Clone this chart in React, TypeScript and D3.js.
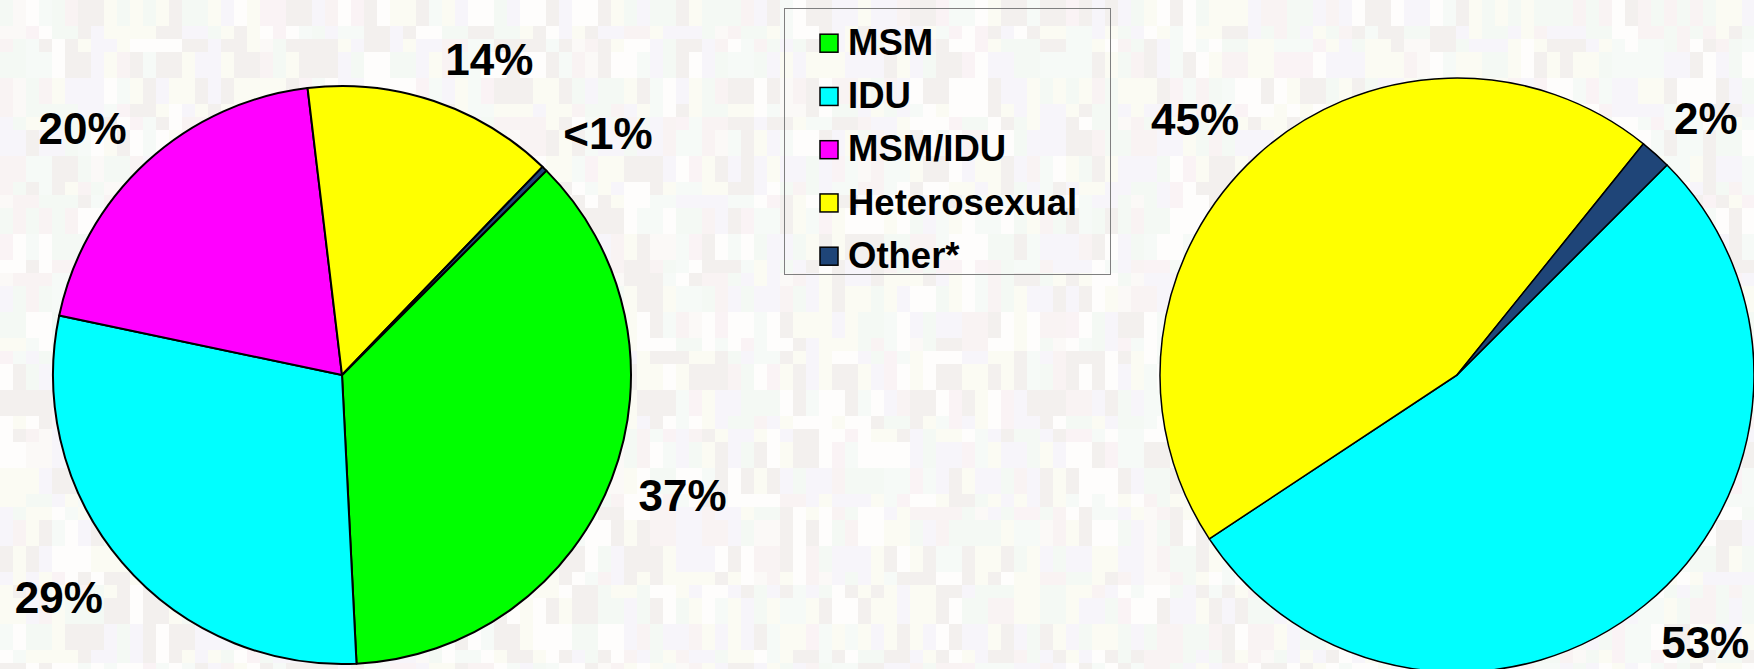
import React from "react";
import * as d3 from "d3";

// ---- data ----
const categories = ["MSM", "IDU", "MSM/IDU", "Heterosexual", "Other*"];
const sliceColors = ["#00ff00", "#00ffff", "#ff00ff", "#ffff00", "#1f4578"];
const leftValues = [36.7, 29.1, 19.8, 14.1, 0.3];
const rightValues = [0, 53.2, 0, 45.1, 1.7];

// ---- layout ----
const W = 1754;
const H = 669;
const FONT = "'Liberation Sans', Arial, Helvetica, sans-serif";
const LABEL_FS = 44;
const START_DEG = 45;
const PIES = [
  { values: leftValues, cx: 342, cy: 375, r: 289, stroke: 2, shift: [-1.6, 2.4, -3.9, 6.5, 3.3] },
  { values: rightValues, cx: 1457, cy: 375, r: 297, stroke: 1.5, shift: [0, -3.6, 0, -3.4, 2.2] },
];
const LEGEND = { x: 784, y: 8, w: 326, h: 266, firstRow: 33.7, rowGap: 53.25, swX: 820, sw: 18, textX: 848, fs: 36.5 };

const charW: Record<string, number> = { "%": 0.889, "<": 0.584 };
const textWidth = (s: string, fs: number) =>
  s.split("").reduce((a, c) => a + (charW[c] ?? 0.556), 0) * fs;

const fmt = (v: number) => (v < 1 ? "<1%" : `${Math.round(v)}%`);

function labelCenter(theta: number, R: number, w: number, h: number, gap: number) {
  const ux = Math.sin(theta);
  const uy = -Math.cos(theta);
  const target = R + gap;
  let lo = R * 0.5;
  let hi = R + 400;
  for (let k = 0; k < 60; k++) {
    const D = (lo + hi) / 2;
    const cx = D * ux;
    const cy = D * uy;
    const px = Math.max(cx - w / 2, Math.min(0, cx + w / 2));
    const py = Math.max(cy - h / 2, Math.min(0, cy + h / 2));
    const d = Math.hypot(px, py);
    if (d < target) lo = D;
    else hi = D;
  }
  const D = (lo + hi) / 2;
  return [D * ux, D * uy];
}

// deterministic decorative texture for the slide background
function hash(i: number, j: number) {
  const s = Math.sin(i * 12.9898 + j * 78.233) * 43758.5453;
  return s - Math.floor(s);
}
const tints = ["#fbf9f7", "#f9f3f3", "#f4f9f4", "#f7f5fa", "#fbfbf3", "#f3f0ee", "#fefdfc", "#f6faf7", "#faf3f5"];

function Background() {
  const cw = 13;
  const ch = 13;
  const cols = Math.ceil(W / cw);
  const rows = Math.ceil(H / ch);
  const rects: JSX.Element[] = [];
  for (let i = 0; i < cols; i++) {
    for (let j = 0; j < rows; j++) {
      const h1 = hash(Math.floor(i / 2), Math.floor(j / 3));
      const h2 = hash(i + 101, Math.floor(j / 2));
      const c = tints[Math.floor((h1 * 0.7 + h2 * 0.3) * tints.length) % tints.length];
      rects.push(<rect key={`${i}-${j}`} x={i * cw} y={j * ch} width={cw} height={ch} fill={c} />);
    }
  }
  return (
    <g shapeRendering="crispEdges">
      <rect x={0} y={0} width={W} height={H} fill="#f9f7f5" />
      {rects}
    </g>
  );
}

function Pie({ values, cx, cy, r, stroke, shift }: (typeof PIES)[number]) {
  const start = (START_DEG * Math.PI) / 180;
  const pie = d3
    .pie<number>()
    .sort(null)
    .value((d) => d)
    .startAngle(start)
    .endAngle(start + 2 * Math.PI);
  const arcs = pie(values);
  const arc = d3.arc<d3.PieArcDatum<number>>().innerRadius(0).outerRadius(r);
  return (
    <g>
      <g transform={`translate(${cx},${cy})`}>
        {arcs
          .filter((a) => a.value > 0)
          .map((a) => (
            <path
              key={a.index}
              d={arc(a) ?? ""}
              fill={sliceColors[a.index]}
              stroke="#000"
              strokeWidth={stroke}
              strokeLinejoin="round"
            />
          ))}
      </g>
      {arcs
        .filter((a) => a.value > 0)
        .map((a) => {
          const txt = fmt(a.value);
          const mid = (a.startAngle + a.endAngle) / 2 + (shift[a.index] * Math.PI) / 180;
          const [lx, ly] = labelCenter(mid, r, textWidth(txt, LABEL_FS), 40, 24);
          return (
            <text
              key={`l${a.index}`}
              x={cx + lx}
              y={cy + ly + 0.358 * LABEL_FS}
              textAnchor="middle"
              fontFamily={FONT}
              fontWeight="bold"
              fontSize={LABEL_FS}
              fill="#000"
            >
              {txt}
            </text>
          );
        })}
    </g>
  );
}

function Legend() {
  const L = LEGEND;
  return (
    <g>
      <rect x={L.x + 0.5} y={L.y + 0.5} width={L.w} height={L.h} fill="none" stroke="#7f7f7f" strokeWidth={1} />
      {categories.map((c, i) => {
        const yc = L.y + L.firstRow + i * L.rowGap;
        return (
          <g key={c}>
            <rect
              x={L.swX}
              y={yc + 1.5 - L.sw / 2}
              width={L.sw}
              height={L.sw}
              fill={sliceColors[i]}
              stroke="#000"
              strokeWidth={1.5}
            />
            <text
              x={L.textX}
              y={yc + 0.358 * L.fs}
              fontFamily={FONT}
              fontWeight="bold"
              fontSize={L.fs}
              fill="#000"
            >
              {c}
            </text>
          </g>
        );
      })}
    </g>
  );
}

export default function App() {
  return (
    <div style={{ position: "absolute", left: 0, top: 0, width: W, height: H }}>
      <svg width={W} height={H} viewBox={`0 0 ${W} ${H}`} style={{ display: "block" }}>
        <Background />
        {PIES.map((p, i) => (
          <Pie key={i} {...p} />
        ))}
        <Legend />
      </svg>
    </div>
  );
}
